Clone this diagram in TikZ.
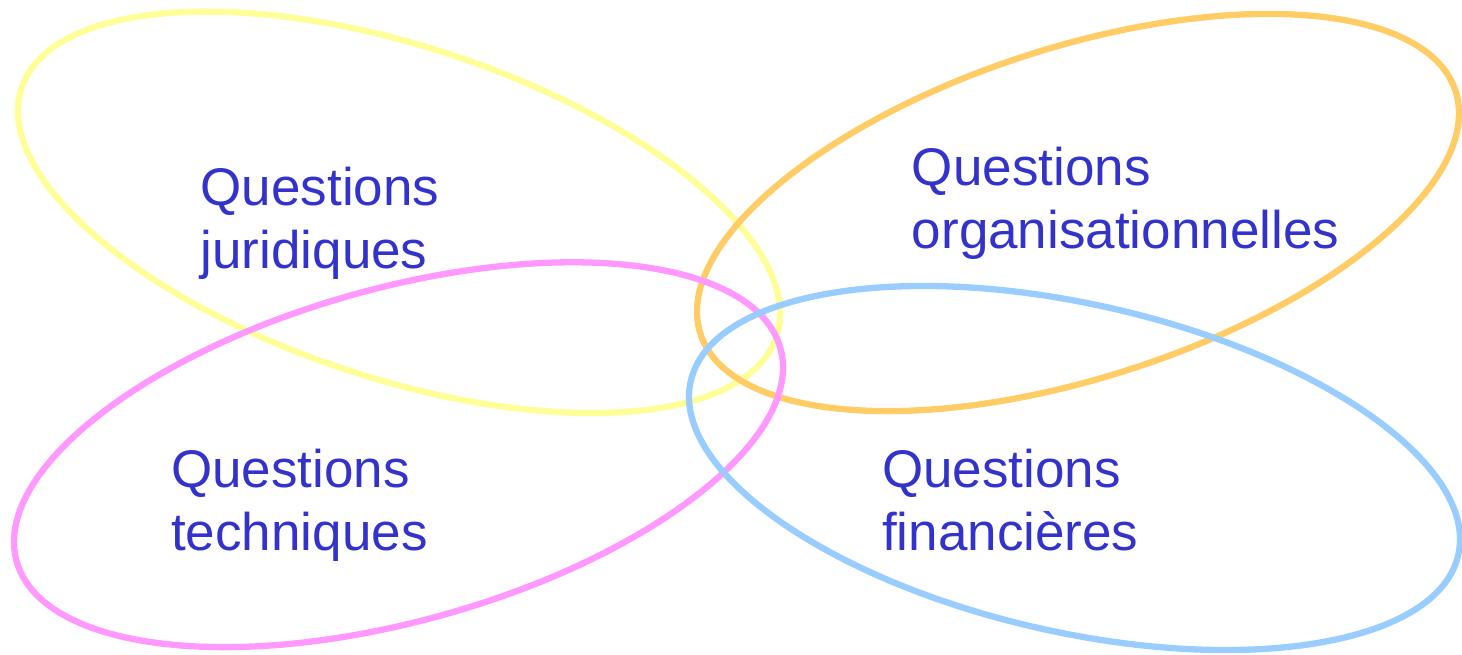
\documentclass[tikz,border=0pt]{standalone}
\usepackage{fontspec}
\setmainfont{Liberation Sans}
\definecolor{cyel}{HTML}{FFFF99}
\definecolor{corg}{HTML}{FFCC66}
\definecolor{cpnk}{HTML}{FF99FF}
\definecolor{cblu}{HTML}{99CCFF}
\definecolor{ctxt}{HTML}{3333CC}
\tikzset{
  ring/.style={line width=6.3pt},
  lbl/.style={anchor=base west, inner sep=0pt, align=left, text=ctxt,
    font=\fontsize{53}{63}\selectfont}
}
\begin{document}
\begin{tikzpicture}[x=1pt,y=1pt]
\useasboundingbox (0,0) rectangle (1462,-654);
\draw[ring, cyel, rotate around={-18.2:(399,-212.3)}] (399,-212.3) ellipse [x radius=397.4, y radius=166];
\draw[ring, corg, rotate around={17.8:(1078,-212.5)}] (1078,-212.5) ellipse [x radius=396.6, y radius=165.2];
\draw[ring, cpnk, rotate around={15.6:(398.5,-454.7)}] (398.5,-454.7) ellipse [x radius=396.5, y radius=166.3];
\draw[ring, cblu, rotate around={-12.75:(1074.5,-468)}] (1074.5,-468) ellipse [x radius=393.5, y radius=164];
\node[lbl] (jur) at (200.5,-268) {Questions\\juridiques};
\node[lbl] (org) at (911.7,-248.3) {Questions\\organisationnelles};
\node[lbl] (tec) at (171,-550) {Questions\\techniques};
\node[lbl] (fin) at (882,-550) {Questions\\financières};
\end{tikzpicture}
\end{document}
